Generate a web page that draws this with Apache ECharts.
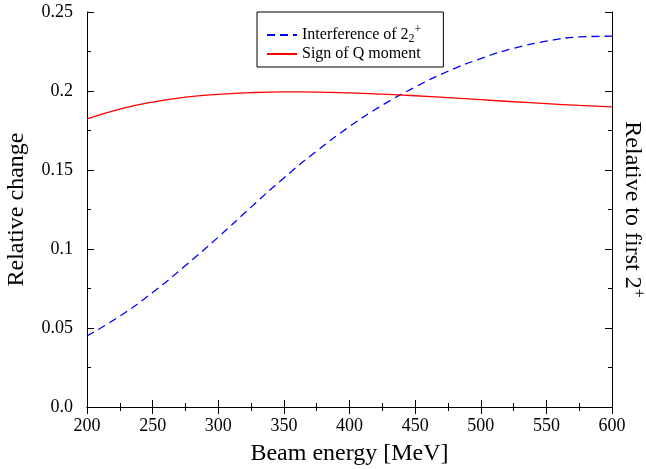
<!DOCTYPE html>
<html>
<head>
<meta charset="utf-8">
<script src="https://cdn.jsdelivr.net/npm/echarts@6/dist/echarts.min.js"></script>
<style>
  html, body { margin: 0; padding: 0; background: #fff; }
  #main { width: 646px; height: 469px; }
</style>
</head>
<body>
<div id="main"></div>
<script>
// beam energy grid (MeV)
var energies = [200, 225, 250, 275, 300, 325, 350, 375, 400, 425, 450, 475, 500, 525, 550, 575, 600];
// Interference of 2_2^+
var interference = [0.045, 0.0575, 0.0725, 0.0895, 0.1075, 0.1265, 0.1450, 0.1620, 0.1775, 0.1910, 0.2025, 0.2125, 0.2205, 0.2270, 0.2315, 0.2342, 0.2347];
// Sign of Q moment
var signQ = [0.1823, 0.1885, 0.1930, 0.1961, 0.1979, 0.1990, 0.1994, 0.1993, 0.1988, 0.1980, 0.1970, 0.1958, 0.1945, 0.1932, 0.1920, 0.1909, 0.1900];

var font = 'Liberation Serif';

function pairs(ys) {
	return energies.map(function (e, i) { return [e, ys[i]]; });
}

var chart = echarts.init(document.getElementById('main'));

var baseTick = {
	axisLine: { show: true, lineStyle: { color: '#000', width: 1 } },
	axisTick: { show: true, inside: true, length: 7, lineStyle: { color: '#000' } },
	minorTick: { show: true, splitNumber: 2, length: 4, lineStyle: { color: '#000' } },
	splitLine: { show: false }
};

option = {
	backgroundColor: '#fff',
	animation: false,
	grid: { left: 87, right: 34, top: 12, bottom: 62, containLabel: false, outerBoundsMode: 'none' },
	legend: {
		orient: 'vertical',
		left: 257,
		top: 12,
		padding: [12, 22, 5, 9],
		itemGap: 1,
		itemWidth: 30,
		itemHeight: 10,
		borderColor: '#000',
		borderWidth: 1,
		borderRadius: 0,
		backgroundColor: '#fff',
		itemStyle: { opacity: 0 },
		textStyle: {
			fontFamily: font,
			fontSize: 16,
			color: '#000',
			rich: {
				t: { fontFamily: font, fontSize: 16, color: '#000' },
				sub: { fontFamily: font, fontSize: 12, color: '#000', padding: [8, 0, 0, 0] },
				sup: { fontFamily: font, fontSize: 12, color: '#000', padding: [0, 0, 10, 0] }
			}
		},
		formatter: function (name) {
			if (name === 'Interference of 2_2^+') {
				return '{t|Interference of 2}{sub|2}{sup|+}';
			}
			return '{t|' + name + '}';
		},
		data: ['Interference of 2_2^+', 'Sign of Q moment']
	},
	xAxis: [
		Object.assign({
			type: 'value',
			min: 200,
			max: 600,
			interval: 50,
			name: 'Beam energy [MeV]',
			nameLocation: 'middle',
			nameGap: 35,
			nameTextStyle: { fontFamily: font, fontSize: 24, color: '#000' },
			axisLabel: { fontFamily: font, fontSize: 18, color: '#000', margin: 10 }
		}, baseTick),
		Object.assign({
			type: 'value',
			position: 'top',
			min: 200,
			max: 600,
			interval: 50,
			axisLabel: { show: false }
		}, baseTick)
	],
	yAxis: [
		Object.assign({
			type: 'value',
			min: 0,
			max: 0.25,
			interval: 0.05,
			name: 'Relative change',
			nameLocation: 'middle',
			nameGap: 58,
			nameTextStyle: { fontFamily: font, fontSize: 24, color: '#000' },
			axisLabel: {
				fontFamily: font,
				fontSize: 18,
				color: '#000',
				margin: 14,
				formatter: function (v) {
					return v === 0 ? '0.0' : String(+v.toFixed(2));
				}
			}
		}, baseTick),
		Object.assign({
			type: 'value',
			position: 'right',
			min: 0,
			max: 0.25,
			interval: 0.05,
			name: '{t|Relative to first 2}{sup|+}',
			nameLocation: 'middle',
			nameRotate: -90,
			nameGap: 6,
			nameTextStyle: {
				fontFamily: font,
				fontSize: 24,
				color: '#000',
				rich: {
					t: { fontFamily: font, fontSize: 24, color: '#000' },
					sup: { fontFamily: font, fontSize: 16, color: '#000', padding: [0, 0, 12, 0] }
				}
			},
			axisLabel: { show: false }
		}, baseTick)
	],
	series: [
		{
			name: 'Interference of 2_2^+',
			type: 'line',
			smooth: true,
			symbol: 'none',
			data: pairs(interference),
			lineStyle: { color: '#0000ff', width: 1.3, type: [8, 5] },
			itemStyle: { color: '#0000ff' }
		},
		{
			name: 'Sign of Q moment',
			type: 'line',
			smooth: true,
			symbol: 'none',
			data: pairs(signQ),
			lineStyle: { color: '#ff0000', width: 1.3 },
			itemStyle: { color: '#ff0000' }
		}
	]
};

chart.setOption(option);
</script>
</body>
</html>
